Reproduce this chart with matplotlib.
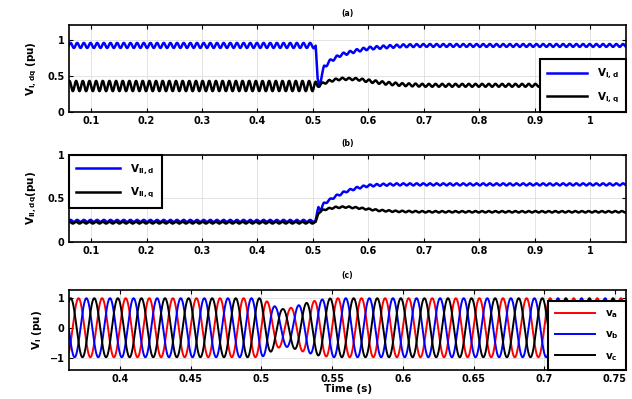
import numpy as np
import matplotlib
matplotlib.use("Agg")
import matplotlib.pyplot as plt

# ---------------- data ----------------
# Panel (a): mean trajectories (key points) and ripple amplitude
ta_key = [0.06, 0.50, 0.505, 0.508, 0.512, 0.52, 0.53, 0.55, 0.58, 0.60, 0.63, 0.66, 0.70, 1.065]
vId_mean = [0.92, 0.92, 0.90, 0.45, 0.38, 0.62, 0.70, 0.79, 0.85, 0.88, 0.90, 0.915, 0.92, 0.92]
vId_rip = [0.035, 0.035, 0.035, 0.03, 0.03, 0.025, 0.02, 0.02, 0.02, 0.02, 0.02, 0.02, 0.02, 0.02]
vIq_mean = [0.36, 0.36, 0.36, 0.36, 0.38, 0.40, 0.43, 0.46, 0.455, 0.43, 0.40, 0.38, 0.37, 0.37]
vIq_rip = [0.07, 0.07, 0.06, 0.03, 0.02, 0.015, 0.015, 0.015, 0.015, 0.02, 0.02, 0.02, 0.02, 0.02]

# Panel (b)
tb_key = [0.06, 0.50, 0.505, 0.51, 0.515, 0.52, 0.54, 0.56, 0.58, 0.60, 0.62, 0.65, 0.70, 1.065]
vIId_mean = [0.24, 0.24, 0.24, 0.40, 0.38, 0.44, 0.52, 0.58, 0.62, 0.645, 0.655, 0.66, 0.66, 0.66]
vIId_rip = [0.012, 0.012, 0.012, 0.02, 0.02, 0.012, 0.012, 0.012, 0.012, 0.012, 0.012, 0.012, 0.012, 0.012]
vIIq_mean = [0.22, 0.22, 0.22, 0.34, 0.35, 0.37, 0.395, 0.40, 0.39, 0.375, 0.36, 0.35, 0.345, 0.345]
vIIq_rip = [0.01, 0.01, 0.01, 0.01, 0.01, 0.008, 0.008, 0.008, 0.008, 0.008, 0.008, 0.008, 0.008, 0.008]
ripple_period = 0.012   # s, read from the tooth spacing

# Panel (c): three-phase voltages, envelope key points and frequency
tc_key = [0.364, 0.50, 0.505, 0.51, 0.515, 0.52, 0.53, 0.54, 0.55, 0.758]
vabc_env = [0.98, 0.98, 0.85, 0.70, 0.62, 0.65, 0.80, 0.92, 0.98, 0.98]
grid_freq = 60.0        # Hz, ~3 cycles per 0.05 s
phase_shift_deg = [0, -120, 120]

labels_a = [r'$\mathbf{V_{I,d}}$', r'$\mathbf{V_{I,q}}$']
labels_b = [r'$\mathbf{V_{II,d}}$', r'$\mathbf{V_{II,q}}$']
labels_c = [r'$\mathbf{v_a}$', r'$\mathbf{v_b}$', r'$\mathbf{v_c}$']

xticks_ab = [0.1, 0.2, 0.3, 0.4, 0.5, 0.6, 0.7, 0.8, 0.9, 1.0]
xticklabels_ab = ['0.1', '0.2', '0.3', '0.4', '0.5', '0.6', '0.7', '0.8', '0.9', '1']
xticks_c = [0.4, 0.45, 0.5, 0.55, 0.6, 0.65, 0.7, 0.75]
xticklabels_c = ['0.4', '0.45', '0.5', '0.55', '0.6', '0.65', '0.7', '0.75']

# ---------------- build signals ----------------
ta = np.linspace(0.06, 1.065, 6000)
tc = np.linspace(0.364, 0.758, 6000)

def rippled(t, tk, mean, rip, phase=0.0):
    m = np.interp(t, tk, mean)
    r = np.interp(t, tk, rip)
    return m + r * np.sin(2 * np.pi * t / ripple_period + phase)

sig_a = [rippled(ta, ta_key, vId_mean, vId_rip), rippled(ta, ta_key, vIq_mean, vIq_rip, 1.0)]
sig_b = [rippled(ta, tb_key, vIId_mean, vIId_rip), rippled(ta, tb_key, vIIq_mean, vIIq_rip, 1.0)]
env = np.interp(tc, tc_key, vabc_env)
sig_c = [env * np.sin(2 * np.pi * grid_freq * tc + np.deg2rad(p)) for p in phase_shift_deg]

# ---------------- figure ----------------
plt.rcParams['font.family'] = 'DejaVu Sans'
plt.rcParams['font.weight'] = 'bold'
plt.rcParams['mathtext.default'] = 'bf'
fig = plt.figure(figsize=(6.32, 3.99), dpi=100)

L, R = 0.109, 0.991
axa = fig.add_axes([L, 0.719, R - L, 0.218])
axb = fig.add_axes([L, 0.394, R - L, 0.218])
axc = fig.add_axes([L, 0.073, R - L, 0.200])

def style(ax):
    ax.tick_params(direction='in', top=True, right=True, labelsize=7, length=3, width=0.8, pad=3)
    for lab in ax.get_xticklabels() + ax.get_yticklabels():
        lab.set_fontweight('bold')
    for s in ax.spines.values():
        s.set_linewidth(1.2)
    ax.grid(True, color='#d8d8d8', linewidth=0.5)
    ax.set_axisbelow(True)

def leg(ax, loc, labels, handles, hl=3.8):
    lg = ax.legend(handles, labels, loc=loc, borderaxespad=0, fancybox=False,
                   framealpha=1, edgecolor='black', fontsize=7.5, handlelength=hl,
                   labelspacing=0.9, borderpad=0.7, handletextpad=1.0)
    lg.get_frame().set_linewidth(1.5)
    return lg

# (a)
la = [axa.plot(ta, s, color=c, lw=1.8)[0] for s, c in zip(sig_a, ['#0000ff', 'black'])]
axa.set_xlim(0.06, 1.065)
axa.set_ylim(0, 1.2)
axa.set_yticks([0, 0.5, 1])
axa.set_yticklabels(['0', '0.5', '1'])
axa.set_xticks(xticks_ab)
axa.set_xticklabels(xticklabels_ab)
axa.set_ylabel(r'$\mathbf{V_{I,dq}}$ (pu)', fontsize=7.5, fontweight='bold', labelpad=6)
style(axa)
leg(axa, 'lower right', labels_a, la, 3.8)

# (b)
lb = [axb.plot(ta, s, color=c, lw=1.8)[0] for s, c in zip(sig_b, ['#0000ff', 'black'])]
axb.set_xlim(0.06, 1.065)
axb.set_ylim(0, 1)
axb.set_yticks([0, 0.5, 1])
axb.set_yticklabels(['0', '0.5', '1'])
axb.set_xticks(xticks_ab)
axb.set_xticklabels(xticklabels_ab)
axb.set_ylabel(r'$\mathbf{V_{II,dq}}$(pu)', fontsize=7.5, fontweight='bold', labelpad=6)
style(axb)
leg(axb, 'upper left', labels_b, lb, 4.2)

# (c)
lc = [axc.plot(tc, s, color=c, lw=1.4)[0] for s, c in zip(sig_c, ['#ff0000', '#0000ff', 'black'])]
axc.set_xlim(0.364, 0.758)
axc.set_ylim(-1.4, 1.25)
axc.set_yticks([-1, 0, 1])
axc.set_yticklabels(['\u22121', '0', '1'])
axc.set_xticks(xticks_c)
axc.set_xticklabels(xticklabels_c)
axc.set_ylabel(r'$\mathbf{V_I}$ (pu)', fontsize=7.5, fontweight='bold', labelpad=4)
axc.set_xlabel('Time (s)', fontsize=7.5, fontweight='bold', labelpad=0)
style(axc)
leg(axc, 'lower right', labels_c, lc, 3.8)

fig.text(0.5 * (L + R), 0.965, '(a)', ha='center', va='center', fontsize=5.5)
fig.text(0.5 * (L + R), 0.640, '(b)', ha='center', va='center', fontsize=5.5)
fig.text(0.5 * (L + R), 0.310, '(c)', ha='center', va='center', fontsize=5.5)

fig.savefig('out.png', dpi=100)
